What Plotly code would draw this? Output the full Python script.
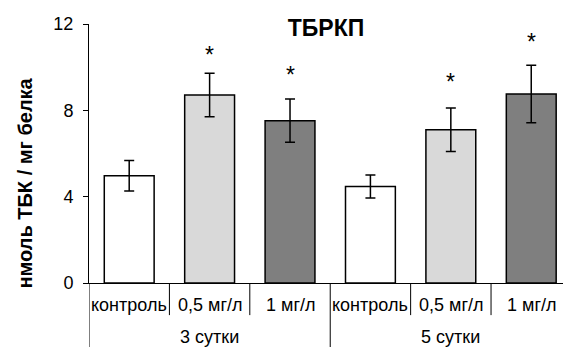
import plotly.graph_objects as go

# ---- data ----
groups = ["3 сутки", "5 сутки"]
categories = ["контроль", "0,5 мг/л", "1 мг/л", "контроль", "0,5 мг/л", "1 мг/л"]
group_of = [0, 0, 0, 1, 1, 1]
values = [4.97, 8.71, 7.52, 4.47, 7.10, 8.76]
errors = [0.71, 1.01, 1.00, 0.53, 1.01, 1.33]
stars = ["", "*", "*", "", "*", "*"]
star_y = [0, 10.78, 9.88, 0, 9.55, 11.38]
colors = ["#ffffff", "#d9d9d9", "#7f7f7f", "#ffffff", "#d9d9d9", "#7f7f7f"]
y_ticks = [0, 4, 8, 12]
title = "ТБРКП"
y_title = "нмоль ТБК / мг белка"

FONT = "Arial, Liberation Sans, sans-serif"
x = list(range(len(categories)))

fig = go.Figure()
fig.add_trace(go.Bar(
    x=x, y=values, width=0.62,
    marker=dict(color=colors, line=dict(color="black", width=1.5)),
    error_y=dict(type="data", array=errors, color="black", thickness=1.5, width=5),
    showlegend=False, hoverinfo="skip",
))

ann = []
# stars
for i, s in enumerate(stars):
    if s:
        ann.append(dict(x=i, y=star_y[i], xref="x", yref="y", text=s, showarrow=False,
                        yanchor="middle", yshift=-5, font=dict(size=23, family=FONT, color="black")))
# category labels
for i, c in enumerate(categories):
    ann.append(dict(x=i, y=-0.085, xref="x", yref="paper", text=c, showarrow=False,
                    yanchor="middle", font=dict(size=18, family=FONT, color="black")))
# group labels
for g, name in enumerate(groups):
    idx = [i for i in x if group_of[i] == g]
    ann.append(dict(x=sum(idx) / len(idx), y=-0.208, xref="x", yref="paper", text=name,
                    showarrow=False, yanchor="middle", font=dict(size=18, family=FONT, color="black")))
# y title
ann.append(dict(x=-0.137, y=0.384, xref="paper", yref="paper", text="<b>%s</b>" % y_title,
                textangle=-90, showarrow=False, xanchor="center", yanchor="middle",
                font=dict(size=20, family=FONT, color="black")))

shapes = []
for i in range(len(categories)):
    b = i - 0.5
    is_group_start = (i == 0) or (group_of[i] != group_of[i - 1])
    y1 = -0.3 if is_group_start else -0.124
    shapes.append(dict(type="line", xref="x", yref="paper", x0=b, x1=b, y0=0, y1=y1,
                       line=dict(color="black", width=1)))

fig.update_layout(
    width=563, height=347,
    margin=dict(l=89, r=0, t=24, b=64),
    paper_bgcolor="white", plot_bgcolor="white",
    title=dict(text="<b>%s</b>" % title, x=0.5, xref="paper", y=1 - 27.5 / 347,
               yanchor="middle", xanchor="center", font=dict(size=23, family=FONT, color="black")),
    xaxis=dict(range=[-0.5, 5.395], showline=True, linecolor="black", linewidth=1,
               showticklabels=False, ticks="", showgrid=False, zeroline=False, fixedrange=True),
    yaxis=dict(range=[0, 12], tickvals=y_ticks, ticks="outside", ticklen=5, tickcolor="black",
               showline=True, linecolor="black", linewidth=1, showgrid=False, zeroline=False,
               ticklabelstandoff=6, tickfont=dict(size=18, family=FONT, color="black"),
               fixedrange=True),
    annotations=ann, shapes=shapes,
    bargap=0.38, hovermode=False,
)
fig.write_html("out.html", config={"displayModeBar": False, "staticPlot": True},
               post_script="document.body.style.margin='0';document.body.style.overflow='hidden';")
